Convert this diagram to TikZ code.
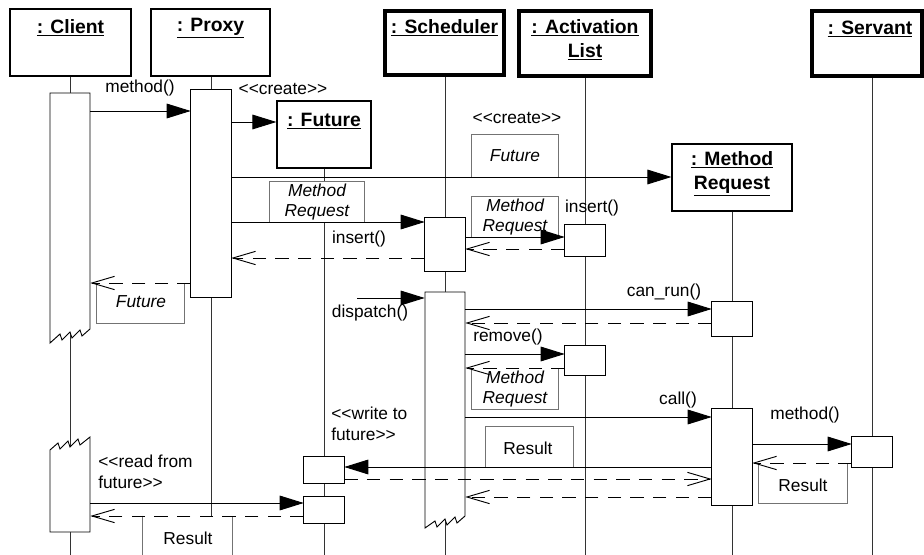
\documentclass[tikz,border=0pt]{standalone}
\usepackage{fontspec}
\setmainfont{Liberation Sans}
\usetikzlibrary{arrows.meta,fit}
\begin{document}
\begin{tikzpicture}[x=0.75pt,y=-0.75pt,
  objbox/.style={draw, fill=white, line width=0.9pt, inner sep=0pt},
  activeobj/.style={objbox, line width=3pt},
  bar/.style={draw, fill=white, line width=0.7pt, inner sep=0pt},
  ghost/.style={inner sep=0pt},
  barpath/.style={draw, fill=white, line width=0.7pt, line join=miter},
  lifeline/.style={line width=0.7pt, draw=black!80},
  title/.style={font=\fontsize{14.5}{18}\selectfont\bfseries, align=center, inner sep=0pt},
  lbl/.style={font=\fontsize{13}{15.5}\selectfont, inner sep=0pt, align=center},
  lblleft/.style={font=\fontsize{13}{15.5}\selectfont, inner sep=0pt, align=left},
  arg/.style={font=\fontsize{13}{14.5}\selectfont\itshape, inner sep=0pt, align=center},
  argframe/.style={draw=black!55, fill=white, line width=0.7pt},
  msg/.style={-{Triangle[length=18pt,width=11pt]}, line width=0.7pt},
  ret/.style={-{Straight Barb[length=17pt,width=10pt]}, line width=0.7pt, dash pattern=on 10pt off 7pt}]

\clip (0,0) rectangle (924,555);
\coordinate (bottom) at (0,560);

% objects
\node[objbox, fit={(10,9)(131,76)}] (client) {};
\node[objbox, fit={(151,9)(270,76)}] (proxy) {};
\node[activeobj, fit={(385,11)(504,75)}] (sched) {};
\node[activeobj, fit={(519,11)(651,76)}] (alist) {};
\node[activeobj, fit={(812,11)(922,76)}] (servant) {};
\node[objbox, fit={(277,101)(371,168)}] (future) {};
\node[objbox, fit={(672,144)(792,211)}] (mreq) {};

\node[title] (clientT) at (70.5,28) {\underline{: Client}};
\node[title] (proxyT) at (210.5,28) {\underline{: Proxy}};
\node[title] (schedT) at (444.5,28) {\underline{: Scheduler}};
\node[title] (alistT) at (585,40) {\underline{: Activation}\\\underline{List}};
\node[title] (servantT) at (870,29) {\underline{: Servant}};
\node[title] (futureT) at (324,121) {\underline{: Future}};
\node[title] (mreqT) at (732,174) {\underline{: Method}\\\underline{Request}};

% activation bars (outlines for connectors)
\node[ghost, fit={(50,93)(90,342)}] (c1) {};
\node[ghost, fit={(50,438)(90,532)}] (c2) {};
\node[ghost, fit={(425,292)(465,527)}] (s2) {};
\node[ghost, fit={(304,457)(344,483)}] (f1) {};
\node[ghost, fit={(304,497)(344,523)}] (f2) {};
\node[ghost, fit={(191,90)(231,297)}] (p1) {};
\node[ghost, fit={(425,218)(465,271)}] (s1) {};
\node[ghost, fit={(565,225)(605,256)}] (a1) {};
\node[ghost, fit={(565,346)(605,375)}] (a2) {};
\node[ghost, fit={(712,302)(752,336)}] (m1) {};
\node[ghost, fit={(712,409)(752,505)}] (m2) {};
\node[ghost, fit={(852,437)(892,467)}] (sv1) {};

% lifelines
\draw[lifeline] (client.south -| c1) -- (c1 |- bottom);
\draw[lifeline] (proxy.south -| p1) -- (p1 |- bottom);
\draw[lifeline] (future.south -| f1) -- (f1 |- bottom);
\draw[lifeline] (sched.south -| s1) -- (s1 |- bottom);
\draw[lifeline] (alist.south -| a1) -- (a1 |- bottom);
\draw[lifeline] (mreq.south -| m1) -- (m1 |- bottom);
\draw[lifeline] (servant.south -| sv1) -- (sv1 |- bottom);

% bars
\path[barpath] (50,93) -- (90,93) -- (90,329) -- (82,336) -- (80,330) -- (72,338) -- (70,332) -- (62,340) -- (60,334) -- (50,343) -- cycle;
\path[barpath] (50,532) -- (50,450) -- (58,443) -- (60,449) -- (68,441) -- (70,447) -- (78,439) -- (80,445) -- (90,437) -- (90,532) -- cycle;
\path[barpath] (425,292) -- (465,292) -- (465,516) -- (457,523) -- (455,517) -- (447,525) -- (445,519) -- (437,527) -- (435,521) -- (425,528) -- cycle;
\foreach \b in {p1,s1,a1,a2,m1,m2,sv1,f1,f2}
  \path[barpath] (\b.north west) rectangle (\b.south east);

% argument boxes sitting on their messages
\node[ghost, fit={(472,135)(558,177)}] (nFut) {};
\node[ghost, fit={(270,182)(364,222)}] (nMR1) {};
\node[ghost, fit={(472,197)(558,237)}] (nMR2) {};
\node[ghost, fit={(486,427)(573,467)}] (nRes1) {};
\foreach \n in {nFut,nMR1,nMR2,nRes1}
  \path[argframe] (\n.south west) |- (\n.north east) -- (\n.south east);
% argument boxes hanging under their messages
\node[ghost, fit={(97,283)(184,323)}] (nFut2) {};
\node[ghost, fit={(472,368)(558,409)}] (nMR3) {};
\node[ghost, fit={(759,463)(847,503)}] (nRes2) {};
\node[ghost, fit={(143,516)(232,565)}] (nRes3) {};
\foreach \n in {nFut2,nMR3,nRes2,nRes3}
  \path[argframe] (\n.north west) |- (\n.south east) -- (\n.north east);

\node[arg] at (nFut) {Future};
\node[arg] at (nMR1) {Method\\Request};
\node[arg] at (nMR2) {Method\\Request};
\node[lbl] at (528,448) {Result};
\node[arg] at (141,302) {Future};
\node[arg] at (515,389) {Method\\Request};
\node[lbl] at (803,485) {Result};
\node[lbl] at (188,538) {Result};

% messages
\coordinate (dsrc) at (357,298);
\draw[msg] (c1.east |- 0,111) -- (p1.west |- 0,111);
\draw[msg] (p1.east |- 0,122) -- (future.west |- 0,122);
\draw[msg] (p1.east |- 0,177) -- (mreq.west |- 0,177);
\draw[msg] (p1.east |- 0,222) -- (s1.west |- 0,222);
\draw[ret] (s1.west |- 0,258) -- (p1.east |- 0,258);
\draw[msg] (s1.east |- 0,237) -- (a1.west |- 0,237);
\draw[ret] (a1.west |- 0,249) -- (s1.east |- 0,249);
\draw[ret] (p1.west |- 0,283) -- (c1.east |- 0,283);
\draw[msg] (dsrc) -- (s2.west |- dsrc);
\draw[msg] (s2.east |- 0,309) -- (m1.west |- 0,309);
\draw[ret] (m1.west |- 0,323) -- (s2.east |- 0,323);
\draw[msg] (s2.east |- 0,354) -- (a2.west |- 0,354);
\draw[ret] (a2.west |- 0,368) -- (s2.east |- 0,368);
\draw[msg] (s2.east |- 0,417) -- (m2.west |- 0,417);
\draw[msg] (m2.east |- 0,444) -- (sv1.west |- 0,444);
\draw[ret] (sv1.west |- 0,463) -- (m2.east |- 0,463);
\draw[msg] (m2.west |- 0,467) -- (f1.east |- 0,467);
\draw[ret] (f1.east |- 0,479) -- (m2.west |- 0,479);
\draw[ret] (m2.west |- 0,497) -- (s2.east |- 0,497);
\draw[msg] (c2.east |- 0,503) -- (f2.west |- 0,503);
\draw[ret] (f2.west |- 0,516) -- (c2.east |- 0,516);

% message labels
\node[lbl] at (140,88) {method()};
\node[lbl] at (283,89) {<{}<create>{}>};
\node[lbl] at (517,118) {<{}<create>{}>};
\node[lbl] at (359,239) {insert()};
\node[lbl] at (592,208) {insert()};
\node[lbl] at (370,313) {dispatch()};
\node[lbl] at (664,292) {can\_run()};
\node[lbl] at (508,337) {remove()};
\node[lbl] at (678,400) {call()};
\node[lbl] at (805,415) {method()};
\node[lblleft, anchor=north west] at (331,407) {<{}<write to\\future>{}>};
\node[lblleft, anchor=north west] at (98,455) {<{}<read from\\future>{}>};
\end{tikzpicture}
\end{document}
